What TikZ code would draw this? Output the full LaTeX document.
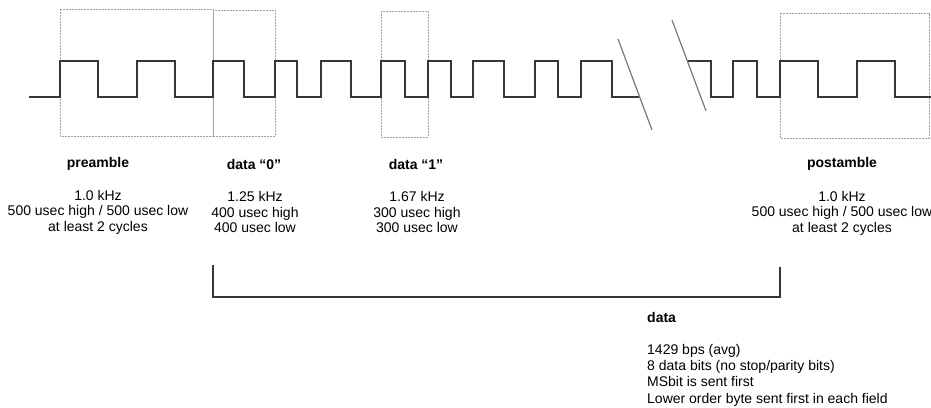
\documentclass[tikz,border=0pt]{standalone}
\usepackage{fontspec}
\setmainfont{Liberation Sans}
\usepackage{xcolor}
\usepackage{tikz}
\usetikzlibrary{positioning}
\definecolor{wavegray}{RGB}{55,55,55}
\definecolor{framegray}{RGB}{160,160,160}
\definecolor{breakgray}{RGB}{120,120,120}

\begin{document}
\begin{tikzpicture}[
  x=1pt, y=-1pt,
  wave/.style={draw=wavegray, line width=1.6pt, line join=miter},
  gatebox/.style={draw=framegray, dashed, dash pattern=on 2pt off 1pt, line width=0.7pt},
  breakline/.style={draw=breakgray, line width=1.2pt},
  bracket/.style={draw=wavegray, line width=1.5pt},
  title/.style={font=\fontsize{14}{16}\selectfont\bfseries, inner sep=0pt},
  body/.style={font=\fontsize{14}{15.5}\selectfont, align=center, inner sep=0pt},
]
  \useasboundingbox (0,0) rectangle (931,407);
  \def\hi{61}
  \def\lo{97}

  % Frames around the pulse groups
  \draw[gatebox] (60,9) rectangle (213,136);
  \draw[gatebox] (213,10) rectangle (275,136);
  \draw[framegray, line width=0.8pt] (213,10) -- (213,136);
  \draw[gatebox] (381,11) rectangle (428,137);
  \draw[gatebox] (780,13) rectangle (929,138);

  % Waveform before the break
  \draw[wave] (29,\lo) -| (60,\hi) -| (98,\lo) -| (137,\hi) -| (175,\lo)
    -| (213,\hi) -| (244,\lo) -| (275,\hi) -| (297,\lo) -| (321,\hi)
    -| (351,\lo) -| (381,\hi) -| (405,\lo) -| (428,\hi) -| (451,\lo)
    -| (473,\hi) -| (504,\lo) -| (535,\hi) -| (558,\lo) -| (581,\hi)
    -| (612,\lo) -- (639,\lo);

  % Waveform after the break
  \draw[wave] (688,\hi) -| (711,\lo) -| (733,\hi) -| (757,\lo) -| (780,\hi)
    -| (818,\lo) -| (857,\hi) -| (895,\lo) -- (931,\lo);

  % Break marks
  \draw[breakline] (618,39) -- (652,130);
  \draw[breakline] (672,20) -- (706,111);

  % Labels under the frames
  \node[title] (pretitle) at (98,164) {preamble};
  \node[body] (prebody) at (98,212) {1.0 kHz\\500 usec high / 500 usec low\\at least 2 cycles};
  \node[title] (zerotitle) at (254,164) {data “0”};
  \node[body] (zerobody) at (255,212) {1.25 kHz\\400 usec high\\400 usec low};
  \node[title] (onetitle) at (416,164) {data “1”};
  \node[body] (onebody) at (417,212) {1.67 kHz\\300 usec high\\300 usec low};
  \node[title] (posttitle) at (842,164) {postamble};
  \node[body] (postbody) at (842,213) {1.0 kHz\\500 usec high / 500 usec low\\at least 2 cycles};

  % Data span
  \coordinate (spanl) at (213,265);
  \coordinate (spanr) at (780,267);
  \draw[bracket] (spanl) -- (213,297) -| (spanr);

  \node[title, anchor=west] (datatitle) at (647,317) {data};
  \node[body, align=left, anchor=west, font=\fontsize{14}{16.3}\selectfont] (databody) at (647,375)
    {1429 bps (avg)\\8 data bits (no stop/parity bits)\\MSbit is sent first\\Lower order byte sent first in each field};
\end{tikzpicture}
\end{document}
